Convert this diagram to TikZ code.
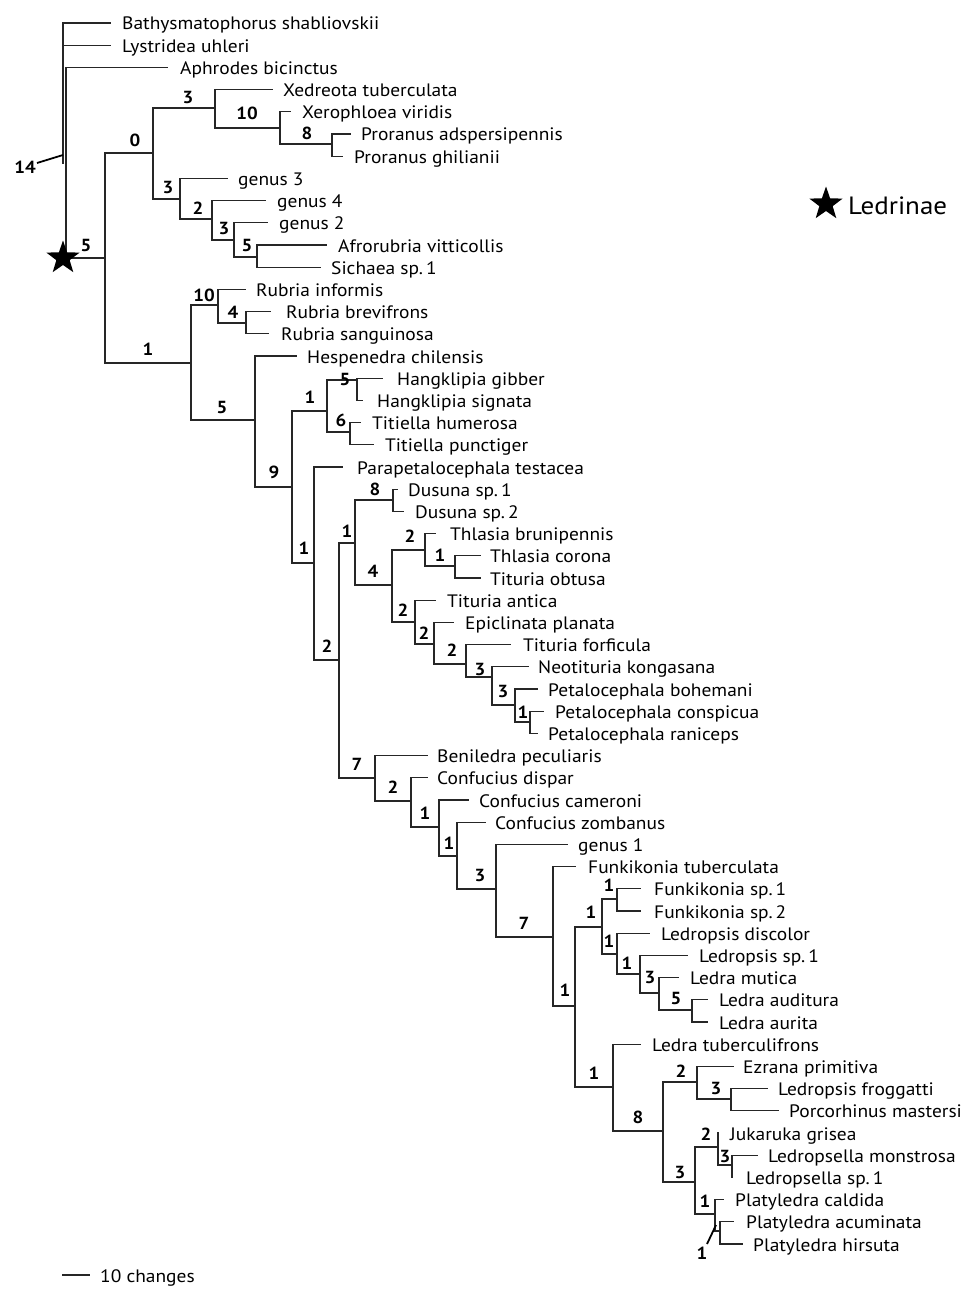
\documentclass[tikz,border=0pt]{standalone}
\usepackage{fontspec}
\setmainfont[FakeStretch=1.08]{PT Sans}
\usetikzlibrary{shapes.geometric}
\begin{document}
\begin{tikzpicture}[x=1pt,y=-1pt,
  br/.style={line width=1.2pt, draw=black!85, line cap=rect},
  tick/.style={line width=1.8pt, draw=black},
  tipname/.style={anchor=base west, inner sep=0pt, font=\fontsize{18}{18}\selectfont},
  num/.style={inner sep=0pt, font=\fontsize{17.5}{17.5}\selectfont\bfseries},
  bigstar/.style={star, star points=5, star point ratio=2.5, fill=black, draw=none, minimum size=35pt, inner sep=0pt}]
\useasboundingbox (0,0) rectangle (976,1295);

% tips
\foreach \i/\ex/\tx/\nm in {
0/110/122/Bathysmatophorus shabliovskii,
1/110/122/Lystridea uhleri,
2/167/180/Aphrodes bicinctus,
3/272/283/Xedreota tuberculata,
4/290/302/Xerophloea viridis,
5/350/361/Proranus adspersipennis,
6/342/354/Proranus ghilianii,
7/227/238/genus 3,
8/265/277/genus 4,
9/267/279/genus 2,
10/326/338/Afrorubria vitticollis,
11/320/331/Sichaea sp.\,1,
12/245/256/Rubria informis,
13/270/286/Rubria brevifrons,
14/268/281/Rubria sanguinosa,
15/296/307/Hespenedra chilensis,
16/382/397/Hangklipia gibber,
17/362/377/Hangklipia signata,
18/360/372/Titiella humerosa,
19/373/385/Titiella punctiger,
20/342/357/Parapetalocephala testacea,
21/397/408/Dusuna sp.\,1,
22/403/415/Dusuna sp.\,2,
23/435/450/Thlasia brunipennis,
24/480/490/Thlasia corona,
25/480/490/Tituria obtusa,
26/435/447/Tituria antica,
27/453/465/Epiclinata planata,
28/510/523/Tituria forficula,
29/528/538/Neotituria kongasana,
30/537/548/Petalocephala bohemani,
31/543/555/Petalocephala conspicua,
32/537/548/Petalocephala raniceps,
33/427/437/Beniledra peculiaris,
34/427/437/Confucius dispar,
35/468/479/Confucius cameroni,
36/485/495/Confucius zombanus,
37/567/578/genus 1,
38/575/588/Funkikonia tuberculata,
39/640/654/Funkikonia sp.\,1,
40/640/654/Funkikonia sp.\,2,
41/649/661/Ledropsis discolor,
42/687/699/Ledropsis sp.\,1,
43/678/690/Ledra mutica,
44/707/719/Ledra auditura,
45/707/719/Ledra aurita,
46/640/652/Ledra tuberculifrons,
47/733/743/Ezrana primitiva,
48/767/778/Ledropsis froggatti,
49/778/789/Porcorhinus mastersi,
50/718/730/Jukaruka grisea,
51/757/768/Ledropsella monstrosa,
52/732/746/Ledropsella sp.\,1,
53/723/735/Platyledra caldida,
54/733/746/Platyledra acuminata,
55/742/753/Platyledra hirsuta}{
  \coordinate (e\i) at (\ex,{23+22.2*\i});
  \node[tipname] (t\i) at (\tx,{30+22.2*\i}) {\nm};
}

% outgroup / root
\coordinate (O1) at (63,23);
\coordinate (O2) at (63,163);
\coordinate (O3) at (66,68);
\coordinate (O4) at (66,258);

% internal nodes
\coordinate (A) at (105,258);
\coordinate (B) at (153,153);
\coordinate (C) at (215,108);
\coordinate (D) at (280,128);
\coordinate (E) at (332,144);
\coordinate (G) at (180,199);
\coordinate (H) at (212,219);
\coordinate (I) at (234,240);
\coordinate (J) at (257,257);
\coordinate (R) at (191,363);
\coordinate (K) at (218,305);
\coordinate (K2) at (246,323);
\coordinate (L) at (255,420);
\coordinate (M) at (292,487);
\coordinate (N) at (327,411);
\coordinate (N1) at (357,380);
\coordinate (N2) at (350,432);
\coordinate (P) at (314,563);
\coordinate (Q) at (339,660);
\coordinate (S) at (355,543);
\coordinate (S1) at (393,500);
\coordinate (S2) at (392,585);
\coordinate (S3) at (425,550);
\coordinate (S5) at (455,566);
\coordinate (S4) at (415,622);
\coordinate (S6) at (434,644);
\coordinate (S7) at (466,664);
\coordinate (S8) at (492,677);
\coordinate (S9) at (515,705);
\coordinate (S10) at (530,722);
\coordinate (Z) at (375,778);
\coordinate (Z1) at (411,801);
\coordinate (Z2) at (439,827);
\coordinate (Z3) at (457,856);
\coordinate (Z4) at (496,889);
\coordinate (Z5) at (553,937);
\coordinate (F) at (575,1006);
\coordinate (F1) at (602,927);
\coordinate (F2) at (617,899);
\coordinate (F3) at (617,954);
\coordinate (F4) at (640,974);
\coordinate (F5) at (659,993);
\coordinate (F6) at (692,1010);
\coordinate (W) at (613,1087);
\coordinate (W1) at (663,1131);
\coordinate (W2) at (697,1082);
\coordinate (W4) at (731,1099);
\coordinate (W3) at (695,1182);
\coordinate (W5) at (718,1147);
\coordinate (W7) at (732,1165);
\coordinate (W6) at (715,1214);
\coordinate (W8) at (720,1231);

% root branches
\draw[br] (O2) |- (e0);
\draw[br] (O2) |- (e1);
\draw[br] (O4) |- (e2);
\draw[br] (O4) -- (A);

% tree branches
\foreach \p/\c in {A/B, A/R, B/C, B/G, C/e3, C/D, D/e4, D/E, E/e5, E/e6,
  G/e7, G/H, H/e8, H/I, I/e9, I/J, J/e10, J/e11,
  R/K, R/L, K/e12, K/K2, K2/e13, K2/e14, L/e15, L/M, M/N, M/P,
  N/N1, N/N2, N1/e16, N1/e17, N2/e18, N2/e19, P/e20, P/Q, Q/S, Q/Z,
  S/S1, S/S2, S1/e21, S1/e22, S2/S3, S2/S4, S3/e23, S3/S5, S5/e24, S5/e25,
  S4/e26, S4/S6, S6/e27, S6/S7, S7/e28, S7/S8, S8/e29, S8/S9, S9/e30, S9/S10,
  S10/e31, S10/e32, Z/e33, Z/Z1, Z1/e34, Z1/Z2, Z2/e35, Z2/Z3, Z3/e36, Z3/Z4,
  Z4/e37, Z4/Z5, Z5/e38, Z5/F, F/F1, F/W, F1/F2, F1/F3, F2/e39, F2/e40,
  F3/e41, F3/F4, F4/e42, F4/F5, F5/e43, F5/F6, F6/e44, F6/e45,
  W/e46, W/W1, W1/W2, W1/W3, W2/e47, W2/W4, W4/e48, W4/e49,
  W3/W5, W3/W6, W5/e50, W5/W7, W7/e51, W7/e52, W6/e53, W6/W8, W8/e54, W8/e55}{
  \draw[br] (\p) |- (\c);
}

% branch support numbers
\foreach \t/\x/\y [count=\k] in {
14/25/167, 5/86/245, 0/135/140, 3/188/97, 10/247/113, 8/307/133,
3/168/187, 2/198/208, 3/224/228, 5/247/245,
10/204/295, 4/233/312, 1/148/349, 5/222/407, 9/274/472,
1/310/397, 5/345/379, 6/341/420,
1/304/548, 2/327/646, 8/375/489, 1/347/531, 4/373/571,
2/410/536, 1/440/555, 2/403/610, 2/424/633, 2/452/650,
3/480/669, 3/503/691, 1/523/712,
7/357/764, 2/393/787, 1/425/813, 1/449/843, 3/480/875, 7/524/923,
1/609/885, 1/591/912, 1/609/941, 1/627/963, 3/650/977, 5/676/998, 1/565/990,
1/594/1073, 2/681/1071, 3/716/1088, 8/638/1117, 2/706/1134, 3/725/1156,
3/680/1172, 1/705/1201, 1/702/1253}{
  \node[num] (lab\k) at (\x,\y) {\t};
}

% label ticks
\coordinate (k1a) at (37,163);
\coordinate (k1b) at (63,155);
\draw[tick] (k1a) -- (k1b);
\coordinate (k2a) at (707,1244);
\coordinate (k2b) at (716,1225);
\draw[tick] (k2a) -- (k2b);

% stars
\node[bigstar] (rootstar) at (63,258) {};
\node[bigstar] (legstar) at (826,204) {};
\node[anchor=base west, inner sep=0pt, font=\fontsize{25}{25}\selectfont] (legtext) at (848,214) {Ledrinae};

% scale bar
\coordinate (sb1) at (63,1275);
\coordinate (sb2) at (89,1275);
\draw[br] (sb1) -- (sb2);
\node[tipname] (sbtext) at (100,1282) {10 changes};
\end{tikzpicture}
\end{document}
